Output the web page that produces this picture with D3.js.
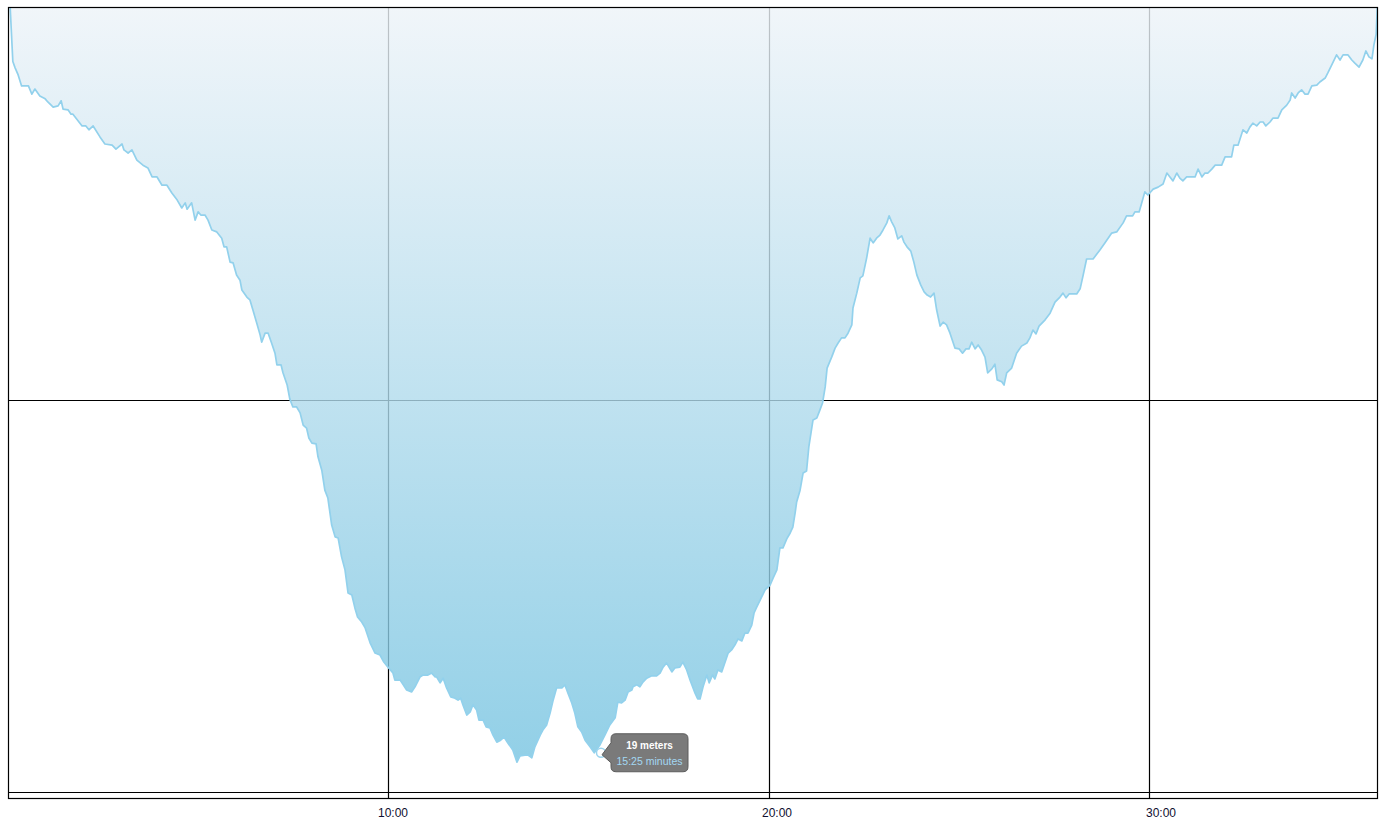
<!DOCTYPE html>
<html>
<head>
<meta charset="utf-8">
<script src="https://cdn.jsdelivr.net/npm/d3@7"></script>
<style>
  html, body { margin: 0; padding: 0; background: #ffffff; }
  svg { display: block; }
</style>
</head>
<body>
<svg id="chart" width="1383" height="823"></svg>
<script>
// ---- data (minutes into dive, depth in meters) ----
const times = [0.07,0.14,0.20,0.28,0.37,0.55,0.64,0.72,0.85,0.99,
1.06,1.20,1.33,1.41,1.46,1.59,1.67,1.72,1.96,2.06,
2.14,2.25,2.43,2.56,2.75,2.85,3.01,3.06,3.17,3.27,
3.40,3.56,3.69,3.80,3.93,4.06,4.19,4.32,4.46,4.58,
4.67,4.72,4.84,4.93,5.01,5.08,5.19,5.27,5.37,5.50,
5.63,5.69,5.76,5.85,5.93,6.02,6.11,6.16,6.29,6.37,
6.45,6.55,6.64,6.68,6.77,6.85,6.94,7.03,7.08,7.19,
7.24,7.35,7.42,7.50,7.60,7.69,7.77,7.86,7.92,8.00,
8.11,8.16,8.26,8.34,8.42,8.52,8.61,8.69,8.78,8.87,
8.95,9.05,9.13,9.20,9.31,9.40,9.53,9.66,9.79,9.89,
10.00,10.13,10.18,10.32,10.49,10.62,10.71,10.84,10.92,11.05,
11.15,11.24,11.28,11.37,11.45,11.54,11.65,11.76,11.84,11.91,
11.97,12.07,12.16,12.23,12.33,12.39,12.50,12.58,12.68,12.76,
12.86,12.96,13.05,13.15,13.28,13.39,13.47,13.60,13.68,13.78,
13.86,14.00,14.07,14.17,14.26,14.34,14.43,14.57,14.65,14.73,
14.83,14.91,14.99,15.09,15.18,15.31,15.42,15.57,15.70,15.83,
15.97,16.04,16.14,16.23,16.31,16.41,16.44,16.54,16.62,16.70,
16.80,16.93,17.06,17.15,17.23,17.32,17.46,17.54,17.67,17.75,
17.85,17.94,18.07,18.14,18.20,18.28,18.38,18.44,18.53,18.59,
18.67,18.77,18.86,18.94,19.03,19.12,19.20,19.30,19.38,19.46,
19.56,19.62,19.69,19.78,19.91,20.04,20.12,20.22,20.30,20.38,
20.48,20.57,20.64,20.70,20.74,20.83,20.91,21.00,21.06,21.17,
21.27,21.35,21.42,21.49,21.54,21.66,21.75,21.83,21.92,22.01,
22.09,22.19,22.22,22.32,22.41,22.48,22.58,22.67,22.75,22.84,
22.93,23.01,23.11,23.17,23.24,23.32,23.40,23.50,23.56,23.64,
23.74,23.82,23.90,24.00,24.09,24.17,24.26,24.35,24.42,24.51,
24.59,24.68,24.77,24.90,25.01,25.10,25.19,25.27,25.34,25.43,
25.51,25.60,25.69,25.76,25.87,25.95,26.01,26.13,26.19,26.26,
26.39,26.52,26.65,26.79,26.87,26.95,27.03,27.11,27.27,27.40,
27.53,27.66,27.74,27.82,27.90,28.10,28.19,28.27,28.36,28.53,
28.71,28.84,29.02,29.15,29.32,29.41,29.57,29.63,29.74,29.81,
29.89,29.97,30.11,30.24,30.37,30.47,30.55,30.63,30.73,30.81,
30.89,30.99,31.21,31.29,31.39,31.47,31.55,31.65,31.74,31.91,
32.00,32.17,32.23,32.34,32.47,32.57,32.65,32.73,32.83,32.92,
33.00,33.07,33.18,33.26,33.39,33.49,33.62,33.71,33.75,33.84,
33.92,34.01,34.10,34.18,34.28,34.41,34.49,34.63,34.70,34.80,
34.93,35.02,35.10,35.23,35.33,35.41,35.52,35.62,35.70,35.78,
35.86,35.91,35.97,36.00];

const depths = [0,1.39,1.55,1.73,2.01,2.01,2.22,2.09,2.27,2.34,
2.42,2.55,2.52,2.39,2.60,2.62,2.73,2.73,3.03,3.03,
3.13,3.03,3.31,3.49,3.52,3.62,3.49,3.64,3.72,3.64,
3.90,4.03,4.10,4.33,4.33,4.54,4.54,4.74,4.92,5.12,
4.99,5.15,4.99,5.43,5.22,5.30,5.30,5.43,5.68,5.73,
5.89,6.11,6.11,6.50,6.52,6.83,6.96,7.21,7.39,7.46,
7.72,8.05,8.36,8.54,8.31,8.31,8.56,8.82,9.12,9.12,
9.32,9.63,9.99,10.19,10.19,10.34,10.65,10.73,10.98,11.11,
11.13,11.46,11.80,12.31,12.51,13.20,13.50,13.53,14.01,14.34,
14.93,14.98,15.31,15.54,15.67,15.82,16.20,16.46,16.51,16.69,
16.82,16.97,17.15,17.15,17.40,17.45,17.32,17.07,17.02,17.02,
16.97,17.07,17.07,17.22,17.10,17.35,17.58,17.61,17.66,17.61,
17.78,18.04,17.96,17.78,17.91,18.17,18.17,18.34,18.37,18.55,
18.73,18.68,18.60,18.75,18.93,19.24,19.08,19.06,19.06,19.13,
18.85,18.55,18.42,18.29,17.99,17.66,17.35,17.35,17.27,17.48,
17.73,17.99,18.34,18.47,18.68,18.85,19.00,18.80,18.55,18.29,
18.11,17.71,17.73,17.66,17.45,17.40,17.32,17.27,17.32,17.20,
17.10,17.04,17.04,16.97,16.82,16.71,16.94,16.84,16.82,16.69,
16.89,17.15,17.48,17.63,17.63,17.32,17.02,17.22,17.02,17.12,
16.89,16.94,16.69,16.46,16.38,16.25,16.10,16.15,15.95,15.95,
15.75,15.44,15.29,15.11,14.85,14.73,14.55,14.34,13.78,13.78,
13.55,13.40,13.25,12.89,12.61,12.31,11.87,11.82,11.21,10.52,
10.47,10.27,10.09,9.68,9.20,8.92,8.69,8.56,8.43,8.43,
8.31,8.10,7.67,7.29,6.90,6.85,6.39,5.89,6.01,5.89,
5.81,5.68,5.50,5.32,5.48,5.63,5.91,5.83,5.99,6.11,
6.22,6.50,6.83,7.08,7.26,7.34,7.39,7.29,7.72,8.13,
8.03,8.10,8.31,8.69,8.71,8.82,8.71,8.71,8.54,8.71,
8.61,8.74,8.92,9.32,9.22,9.10,9.50,9.55,9.63,9.32,
9.20,8.82,8.64,8.56,8.43,8.23,8.33,8.13,7.97,7.80,
7.52,7.39,7.29,7.41,7.31,7.31,7.18,6.83,6.42,6.42,
6.19,6.01,5.76,5.73,5.50,5.32,5.32,5.22,5.22,4.99,
4.71,4.79,4.64,4.59,4.51,4.23,4.33,4.43,4.23,4.36,
4.43,4.33,4.33,4.13,4.33,4.23,4.23,4.13,4.03,4.03,
3.82,3.82,3.52,3.52,3.13,3.21,3.06,2.96,3.03,2.93,
2.93,3.03,2.93,2.83,2.83,2.62,2.50,2.37,2.19,2.32,
2.19,2.11,2.22,2.22,2.01,1.99,1.91,1.81,1.68,1.48,
1.22,1.35,1.22,1.22,1.35,1.43,1.53,1.35,1.12,1.27,
1.32,0.97,0.69,0];

const timeTicks = [10, 20, 30];
const timeTickLabels = ["10:00", "20:00", "30:00"];
const depthTicks = [10, 20];
const timeDomain = [0, 36];
const depthDomain = [0, 20];

// highlighted point (tooltip)
const tipTime = 15 + 25 / 60;
const tipDepth = 19;
const tipLines = ["19 meters", "15:25 minutes"];

// ---- drawing ----
const svg = d3.select("#chart");
const L = 8, R = 1377, T = 7, B = 798;

const x = d3.scaleLinear().domain(timeDomain).range([7.5, 1377.3]);
const xLab = d3.scaleLinear().domain(timeDomain).range([9, 1391.4]);
const y = d3.scaleLinear().domain(depthDomain).range([7, 792]);

const data = times.map((t, i) => ({ t, d: depths[i] }));

const defs = svg.append("defs");
const grad = defs.append("linearGradient")
  .attr("id", "fillGrad")
  .attr("gradientUnits", "userSpaceOnUse")
  .attr("x1", 0).attr("x2", 0)
  .attr("y1", y(0)).attr("y2", y(20));
grad.append("stop").attr("offset", "0%").attr("stop-color", "rgb(237,243,248)");
grad.append("stop").attr("offset", "100%").attr("stop-color", "rgb(114,194,224)");

defs.append("clipPath").attr("id", "plotClip")
  .append("rect").attr("x", L).attr("y", T).attr("width", R - L).attr("height", B - T);

// grid lines
const grid = svg.append("g");
grid.selectAll("line.v").data(timeTicks).enter().append("line")
  .attr("x1", d => Math.round(x(d)) + 0.5).attr("x2", d => Math.round(x(d)) + 0.5)
  .attr("y1", T).attr("y2", B)
  .attr("stroke", "#000").attr("stroke-width", 1.2);
grid.selectAll("line.h").data(depthTicks).enter().append("line")
  .attr("y1", d => Math.round(y(d)) + 0.5).attr("y2", d => Math.round(y(d)) + 0.5)
  .attr("x1", L).attr("x2", R)
  .attr("stroke", "#000").attr("stroke-width", 1.2);

// area (from the surface down to the depth line)
const plot = svg.append("g").attr("clip-path", "url(#plotClip)");
const area = d3.area().x(d => x(d.t)).y0(y(0)).y1(d => y(d.d));
plot.append("path").datum(data)
  .attr("d", area)
  .attr("fill", "url(#fillGrad)")
  .attr("fill-opacity", 0.8);

const line = d3.line().x(d => x(d.t)).y(d => y(d.d));
plot.append("path").datum(data)
  .attr("d", line)
  .attr("fill", "none")
  .attr("stroke", "#92d1ec")
  .attr("stroke-width", 1.7)
  .attr("stroke-linejoin", "round");

// frame
svg.append("rect")
  .attr("x", L + 0.5).attr("y", T + 0.5)
  .attr("width", R - L).attr("height", B - T)
  .attr("fill", "none").attr("stroke", "#000").attr("stroke-width", 1.2);

// x tick labels
svg.append("g").selectAll("text").data(timeTicks).enter().append("text")
  .attr("x", d => xLab(d))
  .attr("y", 817)
  .attr("text-anchor", "middle")
  .attr("font-family", "Liberation Sans, Arial, sans-serif")
  .attr("font-size", 12)
  .attr("fill", "#101030")
  .text((d, i) => timeTickLabels[i]);

// tooltip
const px = xLab(tipTime), py = y(tipDepth);
const tip = svg.append("g").attr("transform", `translate(${px},${py})`);
tip.append("circle").attr("r", 4.5)
  .attr("fill", "#ffffff").attr("stroke", "#9bd4ee").attr("stroke-width", 1.5);
const bx = 10, bw = 77, by = -19, bh = 38, r = 5;
const tipPath = `M${bx + r},${by} H${bx + bw - r} Q${bx + bw},${by} ${bx + bw},${by + r}
 V${by + bh - r} Q${bx + bw},${by + bh} ${bx + bw - r},${by + bh}
 H${bx + r} Q${bx},${by + bh} ${bx},${by + bh - r}
 V${10} L${1},${2} L${bx},${-10}
 V${by + r} Q${bx},${by} ${bx + r},${by} Z`;
tip.append("path").attr("d", tipPath)
  .attr("fill", "#7a7a7a").attr("stroke", "#5c5c5c").attr("stroke-width", 1);
tip.append("text")
  .attr("x", bx + bw / 2).attr("y", -3.5)
  .attr("text-anchor", "middle")
  .attr("font-family", "Liberation Sans, Arial, sans-serif")
  .attr("font-size", 10).attr("font-weight", "bold")
  .attr("fill", "#ffffff")
  .text(tipLines[0]);
tip.append("text")
  .attr("x", bx + bw / 2).attr("y", 12.5)
  .attr("text-anchor", "middle")
  .attr("font-family", "Liberation Sans, Arial, sans-serif")
  .attr("font-size", 10.5)
  .attr("fill", "#a3d8f3")
  .text(tipLines[1]);
</script>
</body>
</html>
